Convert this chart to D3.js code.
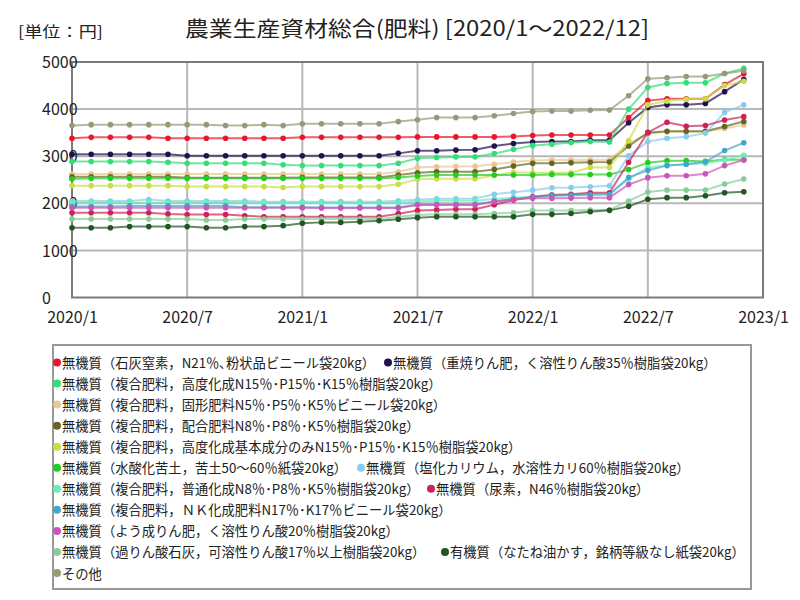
<!DOCTYPE html>
<html>
<head>
<meta charset="utf-8">
<script src="https://cdn.jsdelivr.net/npm/d3@7"></script>
<style>
html,body{margin:0;padding:0;background:#fff;}
svg{display:block;}
text{font-family:"Noto Sans CJK JP","Noto Sans",sans-serif;fill:#222;}
</style>
</head>
<body>
<svg id="chart" width="800" height="600"></svg>
<script>
// ---- data ----
const title = "農業生産資材総合(肥料) [2020/1～2022/12]";
const unitLabel = "[単位：円]";
const months = d3.range(36); // 0 = 2020/1 ... 35 = 2022/12
const xTickValues = [0, 6, 12, 18, 24, 30, 36];
const xTickLabels = ["2020/1", "2020/7", "2021/1", "2021/7", "2022/1", "2022/7", "2023/1"];
const yTickValues = [0, 1000, 2000, 3000, 4000, 5000];

const seriesNames = [
  "無機質（石灰窒素，N21％､粉状品ビニール袋20kg）",
  "無機質（重焼りん肥，く溶性りん酸35％樹脂袋20kg）",
  "無機質（複合肥料，高度化成N15％･P15％･K15％樹脂袋20kg）",
  "無機質（複合肥料，固形肥料N5％･P5％･K5％ビニール袋20kg）",
  "無機質（複合肥料，配合肥料N8％･P8％･K5％樹脂袋20kg）",
  "無機質（複合肥料，高度化成基本成分のみN15％･P15％･K15％樹脂袋20kg）",
  "無機質（水酸化苦土，苦土50～60％紙袋20kg）",
  "無機質（塩化カリウム，水溶性カリ60％樹脂袋20kg）",
  "無機質（複合肥料，普通化成N8％･P8％･K5％樹脂袋20kg）",
  "無機質（尿素，N46％樹脂袋20kg）",
  "無機質（複合肥料，ＮＫ化成肥料N17％･K17％ビニール袋20kg）",
  "無機質（よう成りん肥，く溶性りん酸20％樹脂袋20kg）",
  "無機質（過りん酸石灰，可溶性りん酸17％以上樹脂袋20kg）",
  "有機質（なたね油かす，銘柄等級なし紙袋20kg）",
  "その他"
];
const seriesColors = [
  "#e8172e", "#22114f", "#33dd77", "#e6c890", "#666622",
  "#ccdd44", "#22cc22", "#88ccee", "#66eebb", "#cc2255",
  "#44a6cc", "#cc55bb", "#88cc99", "#225522", "#999977"
];

const sekkaiChisso = [3380,3400,3400,3400,3400,3380,3380,3380,3380,3380,3380,3380,3400,3400,3400,3400,3400,3400,3410,3410,3410,3410,3410,3420,3440,3450,3450,3450,3450,3820,4180,4220,4220,4220,4520,4750];
const jushoRin = [3040,3040,3040,3040,3040,3040,3010,3010,3010,3010,3010,3010,3010,3010,3010,3010,3010,3060,3115,3115,3130,3135,3215,3270,3300,3310,3310,3340,3340,3710,4035,4090,4090,4120,4370,4630];
const kodoKasei = [2885,2885,2885,2885,2885,2870,2850,2850,2850,2850,2850,2820,2800,2800,2800,2800,2800,2850,2955,2975,2985,2985,3055,3145,3225,3255,3290,3310,3300,4000,4460,4545,4560,4560,4755,4865];
const kokeiHiryo = [2620,2620,2620,2620,2620,2620,2620,2620,2620,2620,2620,2620,2620,2620,2620,2620,2620,2670,2760,2775,2780,2785,2830,2875,2910,2920,2920,2920,2920,3270,3480,3520,3520,3520,3590,3665];
const haigoHiryo = [2565,2565,2565,2565,2565,2565,2545,2545,2545,2545,2545,2545,2550,2550,2550,2550,2550,2600,2650,2670,2670,2670,2720,2790,2850,2850,2860,2870,2875,3215,3500,3530,3530,3530,3630,3735];
const kodoKihon = [2375,2375,2375,2375,2375,2375,2355,2355,2355,2355,2355,2335,2355,2355,2355,2355,2355,2405,2510,2520,2520,2520,2590,2660,2650,2650,2650,2760,2760,3330,4090,4170,4210,4220,4500,4590];
const suisanKudo = [2515,2530,2530,2530,2530,2530,2530,2530,2530,2530,2530,2530,2530,2530,2530,2530,2530,2550,2580,2600,2600,2600,2600,2600,2600,2610,2610,2610,2610,2715,2863,2905,2905,2890,2930,2925];
const enkaKari = [2050,2050,2050,2050,2080,2050,2050,2050,2050,2050,2035,2035,2035,2035,2035,2035,2035,2055,2075,2095,2095,2100,2190,2235,2275,2330,2335,2350,2370,3010,3310,3380,3415,3490,3930,4090];
const futsuKasei = [2010,2010,2010,2010,2010,2010,2010,2010,2010,2010,2005,2005,2005,2005,2005,2005,2005,2005,2040,2055,2055,2055,2090,2120,2140,2175,2180,2200,2210,2510,2760,2810,2830,2850,2920,3020];
const nyoso = [1800,1800,1800,1800,1800,1775,1760,1760,1760,1735,1715,1715,1715,1715,1715,1715,1715,1780,1845,1860,1875,1875,1970,2070,2140,2175,2190,2225,2225,2870,3505,3720,3635,3650,3770,3840];
const nkKasei = [1930,1930,1930,1945,1945,1945,1945,1945,1945,1915,1915,1915,1915,1910,1910,1910,1910,1910,1975,1975,1975,1975,2040,2090,2130,2160,2170,2180,2185,2550,2700,2800,2830,2880,3120,3285];
const yoseiRin = [1905,1905,1905,1905,1905,1905,1905,1905,1905,1905,1905,1905,1905,1900,1900,1900,1900,1900,1965,1965,1965,1965,2040,2080,2105,2105,2110,2120,2120,2400,2545,2585,2585,2625,2800,2920];
const karinSan = [1665,1665,1665,1665,1665,1665,1665,1645,1645,1665,1665,1665,1665,1665,1665,1665,1665,1715,1750,1765,1765,1765,1785,1800,1845,1845,1845,1858,1858,2050,2240,2280,2280,2280,2410,2515];
const naneAburakasu = [1480,1480,1480,1505,1505,1505,1505,1480,1480,1505,1505,1525,1575,1595,1595,1610,1630,1660,1695,1715,1715,1715,1715,1715,1765,1765,1785,1820,1850,1935,2085,2120,2120,2160,2225,2245];
const sonota = [3650,3670,3670,3670,3670,3670,3670,3670,3650,3650,3670,3650,3690,3690,3690,3690,3690,3735,3775,3820,3820,3820,3860,3905,3950,3960,3960,3975,3980,4285,4645,4665,4690,4690,4755,4815];

const seriesValues = [sekkaiChisso, jushoRin, kodoKasei, kokeiHiryo, haigoHiryo, kodoKihon, suisanKudo,
  enkaKari, futsuKasei, nyoso, nkKasei, yoseiRin, karinSan, naneAburakasu, sonota];

// legend layout: rows of series indices
const legendRows = [[0, 1], [2], [3], [4], [5], [6, 7], [8, 9], [10], [11], [12, 13], [14]];
const legendSecondX = {0: 388, 5: 361, 6: 431, 9: 445};

// ---- drawing ----
const svg = d3.select("#chart");
svg.append("rect").attr("width", 800).attr("height", 600).attr("fill", "#fff");

const plot = {left: 72, right: 763, top: 62, bottom: 297.5};
const x = d3.scaleLinear().domain([0, 36]).range([plot.left, plot.right]);
const y = d3.scaleLinear().domain([0, 5000]).range([plot.bottom, plot.top]);

// title
svg.append("text").attr("x", 185).attr("y", 27).attr("dominant-baseline", "central")
  .attr("font-size", 21).attr("textLength", 464).attr("lengthAdjust", "spacingAndGlyphs")
  .text(title);
svg.append("text").attr("x", 18).attr("y", 30).attr("dominant-baseline", "central")
  .attr("font-size", 15).attr("textLength", 85).attr("lengthAdjust", "spacingAndGlyphs")
  .text(unitLabel);

// grid
const grid = svg.append("g");
grid.selectAll("line.h").data(yTickValues.filter(v => v > 0 && v < 5000)).join("line")
  .attr("x1", plot.left).attr("x2", plot.right)
  .attr("y1", d => y(d)).attr("y2", d => y(d))
  .attr("stroke", "#b8b8b8").attr("stroke-width", 2);
grid.selectAll("line.v").data(xTickValues.filter(v => v > 0 && v < 36)).join("line")
  .attr("x1", d => x(d)).attr("x2", d => x(d))
  .attr("y1", plot.top).attr("y2", plot.bottom)
  .attr("stroke", "#b8b8b8").attr("stroke-width", 2);
svg.append("rect").attr("x", plot.left).attr("y", plot.top)
  .attr("width", plot.right - plot.left).attr("height", plot.bottom - plot.top)
  .attr("fill", "none").attr("stroke", "#7a7a7a").attr("stroke-width", 2);

// axes labels via d3 axes
const yAxis = d3.axisLeft(y).tickValues(yTickValues).tickSize(0).tickFormat(d3.format("d"));
const gy = svg.append("g").attr("transform", `translate(${plot.left},0)`).call(yAxis);
gy.select(".domain").remove();
gy.selectAll("text").attr("font-size", 16).attr("fill", "#222")
  .attr("text-anchor", "start").attr("x", 42 - plot.left).attr("dy", "0.35em")
  .style("font-family", '"Noto Sans CJK JP",sans-serif');

const xAxis = d3.axisBottom(x).tickValues(xTickValues).tickSize(0).tickFormat((d, i) => xTickLabels[i]);
const gx = svg.append("g").attr("transform", `translate(0,${plot.bottom})`).call(xAxis);
gx.select(".domain").remove();
gx.selectAll("text").attr("font-size", 16).attr("fill", "#222").attr("y", 20).attr("dy", "0.35em")
  .style("font-family", '"Noto Sans CJK JP",sans-serif');

// lines
const line = d3.line().x((d, i) => x(months[i])).y(d => y(d));
const series = svg.append("g").selectAll("g").data(seriesValues).join("g");
series.append("path").attr("d", d => line(d)).attr("fill", "none")
  .attr("stroke", (d, i) => seriesColors[i]).attr("stroke-width", 2).attr("stroke-opacity", 0.7);
series.each(function (vals, si) {
  d3.select(this).selectAll("circle").data(vals).join("circle")
    .attr("cx", (d, i) => x(months[i])).attr("cy", d => y(d)).attr("r", 2.8)
    .attr("fill", seriesColors[si]);
});

// legend
svg.append("rect").attr("x", 53).attr("y", 345).attr("width", 698).attr("height", 244)
  .attr("fill", "#fff").attr("stroke", "#999").attr("stroke-width", 2);
const legend = svg.append("g");
legendRows.forEach((row, ri) => {
  const ly = 362.5 + ri * 21.05;
  row.forEach((si, k) => {
    const lx = k === 0 ? 57 : legendSecondX[ri];
    legend.append("circle").attr("cx", lx).attr("cy", ly).attr("r", 4).attr("fill", seriesColors[si]);
    legend.append("text").attr("x", lx + 5).attr("y", ly).attr("dominant-baseline", "central")
      .attr("font-size", 13.3).text(seriesNames[si]);
  });
});
</script>
</body>
</html>
